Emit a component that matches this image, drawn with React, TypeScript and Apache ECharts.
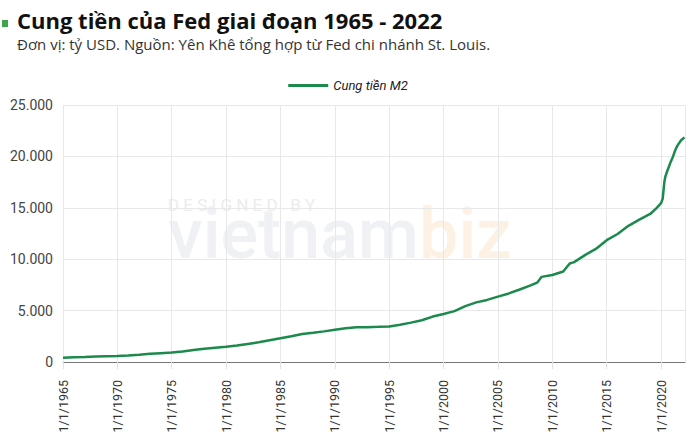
import React, { useEffect, useRef } from "react";
import * as echarts from "echarts";

// Years (decimal) and M2 money supply (billion USD)
const years = [
  1965, 1966, 1967, 1968, 1969, 1970, 1971, 1972, 1973, 1974, 1975, 1976, 1977, 1978, 1979,
  1980, 1981, 1982, 1983, 1984, 1985, 1986, 1987, 1988, 1989, 1990, 1991, 1992, 1993, 1994,
  1995, 1996, 1997, 1998, 1999, 2000, 2001, 2002, 2003, 2004, 2005, 2006, 2007, 2008, 2008.6,
  2009, 2010, 2011, 2011.6, 2012, 2013, 2014, 2015, 2016, 2017, 2018, 2019, 2019.6, 2020,
  2020.15, 2020.3, 2020.4, 2020.61, 2020.86, 2021.1, 2021.3, 2021.5, 2021.84, 2022.15,
];
const m2 = [
  420, 460, 490, 530, 570, 590, 640, 710, 800, 860, 920, 1030, 1160, 1280, 1380,
  1480, 1600, 1760, 1920, 2120, 2320, 2500, 2730, 2840, 2980, 3140, 3280, 3370, 3390, 3420,
  3460, 3630, 3830, 4060, 4420, 4670, 4950, 5440, 5800, 6040, 6360, 6670, 7050, 7450, 7720,
  8280, 8460, 8800, 9580, 9720, 10400, 11000, 11850, 12450, 13250, 13850, 14400, 15000, 15450,
  15900, 17500, 18060, 18700, 19400, 20000, 20600, 21050, 21570, 21850,
];
const yTicks = [0, 5000, 10000, 15000, 20000, 25000];
const seriesName = "Cung tiền M2";
const titleText = "Cung tiền của Fed giai đoạn 1965 - 2022";
const subtitleText = "Đơn vị: tỷ USD. Nguồn: Yên Khê tổng hợp từ Fed chi nhánh St. Louis.";

const fmtThousands = (v: number) =>
  String(Math.round(v)).replace(/\B(?=(\d{3})+(?!\d))/g, ".");

export default function App() {
  const ref = useRef<HTMLDivElement>(null);
  useEffect(() => {
    document.body.style.margin = "0";
    if (!ref.current) return;
    const chart = echarts.init(ref.current, null, { renderer: "svg" });
    const font = "Roboto, 'Noto Sans', sans-serif";
    const wide = "'Open Sans', Roboto, sans-serif";
    chart.setOption({
      animation: false,
      backgroundColor: "#ffffff",
      textStyle: { fontFamily: font },
      graphic: [
        {
          type: "rect",
          shape: { x: 2, y: 20, width: 6, height: 7 },
          style: { fill: "#3aa648" },
        },
        {
          type: "text",
          x: 17,
          y: 9,
          style: {
            text: titleText,
            fontFamily: wide,
            fontSize: 22,
            fontWeight: "bold",
            fill: "#111111",
            verticalAlign: "top",
          },
        },
        {
          type: "text",
          x: 17,
          y: 36,
          style: {
            text: subtitleText,
            fontFamily: wide,
            fontSize: 15,
            fill: "#333333",
            verticalAlign: "top",
          },
        },
        {
          type: "text",
          x: 168,
          y: 199,
          z: -1,
          style: {
            text: "D E S I G N E D   B Y",
            fontFamily: font,
            fontSize: 17,
            lineHeight: 12,
            fill: "#ececec",
          },
        },
        {
          type: "text",
          x: 168,
          y: 215,
          z: -1,
          style: {
            text: "{a|vietnam}{b|biz}",
            fontFamily: font,
            rich: {
              a: { fontFamily: font, fontSize: 70, lineHeight: 38, fontWeight: 500, fill: "#eff1f4", color: "#eff1f4" },
              b: { fontFamily: font, fontSize: 70, lineHeight: 38, fontWeight: 500, fill: "#fdf1e4", color: "#fdf1e4" },
            },
          },
        },
      ],
      legend: {
        top: 74,
        left: "center",
        icon: "rect",
        itemWidth: 40,
        itemHeight: 3,
        itemGap: 8,
        textStyle: { fontFamily: font, fontSize: 13, fontStyle: "italic", color: "#222" },
        data: [seriesName],
      },
      grid: { left: 63, right: 11, top: 105, bottom: 81, containLabel: false },
      xAxis: {
        type: "value",
        min: 1965,
        max: 2022.2,
        interval: 5,
        axisLine: { lineStyle: { color: "#777777", width: 1 } },
        axisTick: { show: true, length: 7, lineStyle: { color: "#e2e2e2" } },
        splitLine: { show: true, lineStyle: { color: "#e8e8e8" } },
        axisLabel: {
          rotate: 90,
          margin: 18,
          fontSize: 12.5,
          color: "#333",
          fontFamily: font,
          showMaxLabel: false,
          formatter: (v: number) => "1/1/" + v,
        },
      },
      yAxis: {
        type: "value",
        min: yTicks[0],
        max: yTicks[yTicks.length - 1],
        interval: 5000,
        axisLine: { show: false },
        axisTick: { show: false },
        splitLine: { lineStyle: { color: "#e8e8e8" } },
        axisLabel: {
          margin: 10,
          fontSize: 14,
          color: "#444",
          fontFamily: font,
          formatter: (v: number) => fmtThousands(v),
        },
      },
      series: [
        {
          name: seriesName,
          type: "line",
          symbol: "none",
          smooth: false,
          color: "#1b8a4c",
          lineStyle: { width: 2.5, color: "#1b8a4c" },
          data: years.map((y, i) => [y, m2[i]]),
        },
      ],
    });
    return () => chart.dispose();
  }, []);
  return <div ref={ref} style={{ width: 696, height: 443 }} />;
}
